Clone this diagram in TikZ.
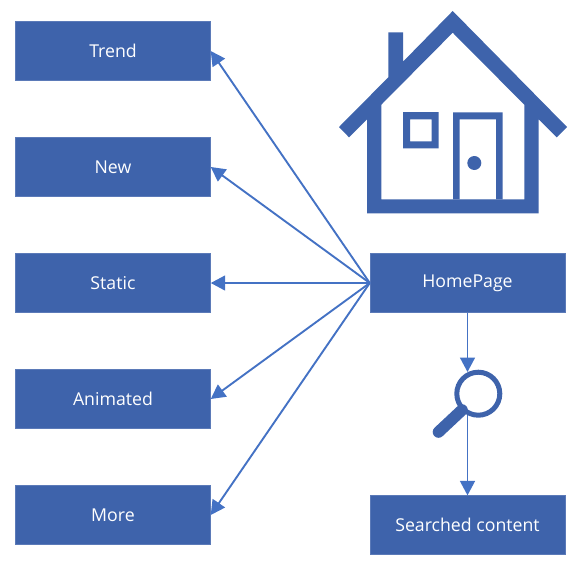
\documentclass[tikz,border=0pt]{standalone}
\usepackage{fontspec}
\setmainfont{Open Sans}
\usetikzlibrary{arrows.meta}
\definecolor{boxblue}{HTML}{3E63AB}
\definecolor{lineblue}{HTML}{4472C4}
\tikzset{
	menubox/.style={fill=boxblue, draw=boxblue!85!white, line width=0.3pt, text=white, inner sep=0pt,
		minimum width=4.875cm, minimum height=1.47cm, font=\fontsize{12.6}{16}\selectfont},
	link/.style={draw=lineblue, line width=1.35pt, -{Triangle[length=0.36cm, width=0.37cm]}},
	icon/.style={fill=boxblue, even odd rule}
}
\begin{document}
\begin{tikzpicture}[x=0.025cm, y=-0.025cm]
	\useasboundingbox (0, 0) rectangle (577, 566);

	\node[menubox] (trend) at (113, 51) {Trend};
	\node[menubox] (new) at (113, 167) {New};
	\node[menubox] (static) at (113, 283) {Static};
	\node[menubox] (animated) at (113, 399) {Animated};
	\node[menubox] (more) at (113, 515) {More};
	\node[menubox] (homepage) at (467.5, 283) {HomePage};
	\node[menubox] (searched) at (467.5, 525) {Searched content};

	\coordinate (lensin) at (467.5, 372);
	\coordinate (lensout) at (467.5, 415);

	\draw[link] (homepage.west) -- (trend.east);
	\draw[link] (homepage.west) -- (new.east);
	\draw[link] (homepage.west) -- (static.east);
	\draw[link] (homepage.west) -- (animated.east);
	\draw[link] (homepage.west) -- (more.east);
	\draw[link] (homepage.south) -- (lensin);
	\draw[link] (lensout) -- (searched.north);

	% House
	\fill[icon] (452.7, 11) -- (567, 127) -- (556.7, 137.3) -- (538.7, 119.3) -- (538.7, 213.3)
		-- (367, 213.3) -- (367, 119.3) -- (349, 137.3) -- (339, 127) -- (388.3, 77.3)
		-- (388.3, 32.3) -- (403, 32.3) -- (403, 61.7) -- cycle
		(452.7, 32.7) -- (524.3, 104.7) -- (524.3, 199.3) -- (381.3, 199.3) -- (381.3, 104.7) -- cycle;
	\fill[icon] (403, 112) rectangle (438.7, 148.3) (410, 119.3) rectangle (431.7, 141.3);
	\fill[icon] (453, 112.3) rectangle (502.7, 199.3) (459.7, 119.3) rectangle (496, 199.3);
	\fill[boxblue] (474.3, 163) circle[radius=7];

	% Magnifier
	\draw[boxblue, line width=0.125cm] (478.3, 393.7) circle[radius=21.5];
	\draw[boxblue, line width=0.29cm, line cap=round] (462, 410) -- (438.5, 432);
\end{tikzpicture}
\end{document}
